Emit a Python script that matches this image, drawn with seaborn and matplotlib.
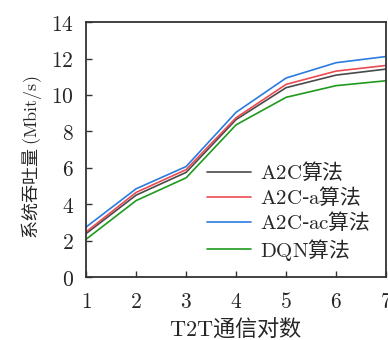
import matplotlib
matplotlib.use("Agg")
import matplotlib.pyplot as plt
import seaborn as sns
import pandas as pd

pairs = [1, 2, 3, 4, 5, 6, 7]
a2c = [2.39, 4.50, 5.75, 8.65, 10.40, 11.09, 11.42]
a2c_a = [2.48, 4.65, 5.90, 8.75, 10.58, 11.31, 11.62]
a2c_ac = [2.75, 4.85, 6.07, 9.05, 10.93, 11.77, 12.11]
dqn = [2.08, 4.20, 5.45, 8.36, 9.87, 10.51, 10.78]
series_names = ["A2C算法", "A2C-a算法", "A2C-ac算法", "DQN算法"]
series_labels = [r"$\mathrm{A2C}$算法", r"$\mathrm{A2C}$-$\mathrm{a}$算法",
                 r"$\mathrm{A2C}$-$\mathrm{ac}$算法", r"$\mathrm{DQN}$算法"]
colors = ["#4a4a4a", "#ec4a52", "#2b7be0", "#1f9a1f"]
yticks = [0, 2, 4, 6, 8, 10, 12, 14]

sns.set_theme(style="ticks")
plt.rcParams["font.family"] = ["Noto Sans CJK SC", "DejaVu Sans"]
plt.rcParams["mathtext.fontset"] = "cm"

rows = []
for name, vals in zip(series_names, [a2c, a2c_a, a2c_ac, dqn]):
    for x, v in zip(pairs, vals):
        rows.append({"pairs": x, "tp": v, "alg": name})
df = pd.DataFrame(rows)

fig = plt.figure(figsize=(3.88, 3.40), dpi=100)
ax = fig.add_axes([0.222, 0.185, 0.773, 0.75])
sns.lineplot(data=df, x="pairs", y="tp", hue="alg", hue_order=series_names,
             palette=colors, linewidth=1.2, ax=ax, legend=False)

ax.set_xlim(1, 7)
ax.set_ylim(0, 14)
ax.set_xticks(pairs)
ax.set_xticklabels([f"${p}$" for p in pairs], fontsize=15.5)
ax.set_yticks(yticks)
ax.set_yticklabels([f"${t}$" for t in yticks], fontsize=15.5)
ax.tick_params(direction="in", length=4, width=1.0, color="#333333")
ax.tick_params(axis="x", pad=10)
ax.tick_params(axis="y", pad=9)
for s in ["left", "bottom", "top", "right"]:
    ax.spines[s].set_linewidth(1.3)
    ax.spines[s].set_color("#333333")

ax.set_xlabel(r"$\mathrm{T2T}$通信对数", fontsize=16, labelpad=2)
ax.set_ylabel(r"系统吞吐量 $(\mathrm{Mbit/s})$", fontsize=13)
ax.yaxis.set_label_coords(-0.14, 0.47)

handles = [plt.Line2D([], [], color=c, linewidth=1.2) for c in colors]
ax.legend(handles, series_labels, loc="lower left", bbox_to_anchor=(0.355, 0.0),
          frameon=False, fontsize=15, handlelength=2.1, handletextpad=0.45,
          labelspacing=0.1, borderaxespad=0.3)

fig.savefig("out.png", dpi=100)
